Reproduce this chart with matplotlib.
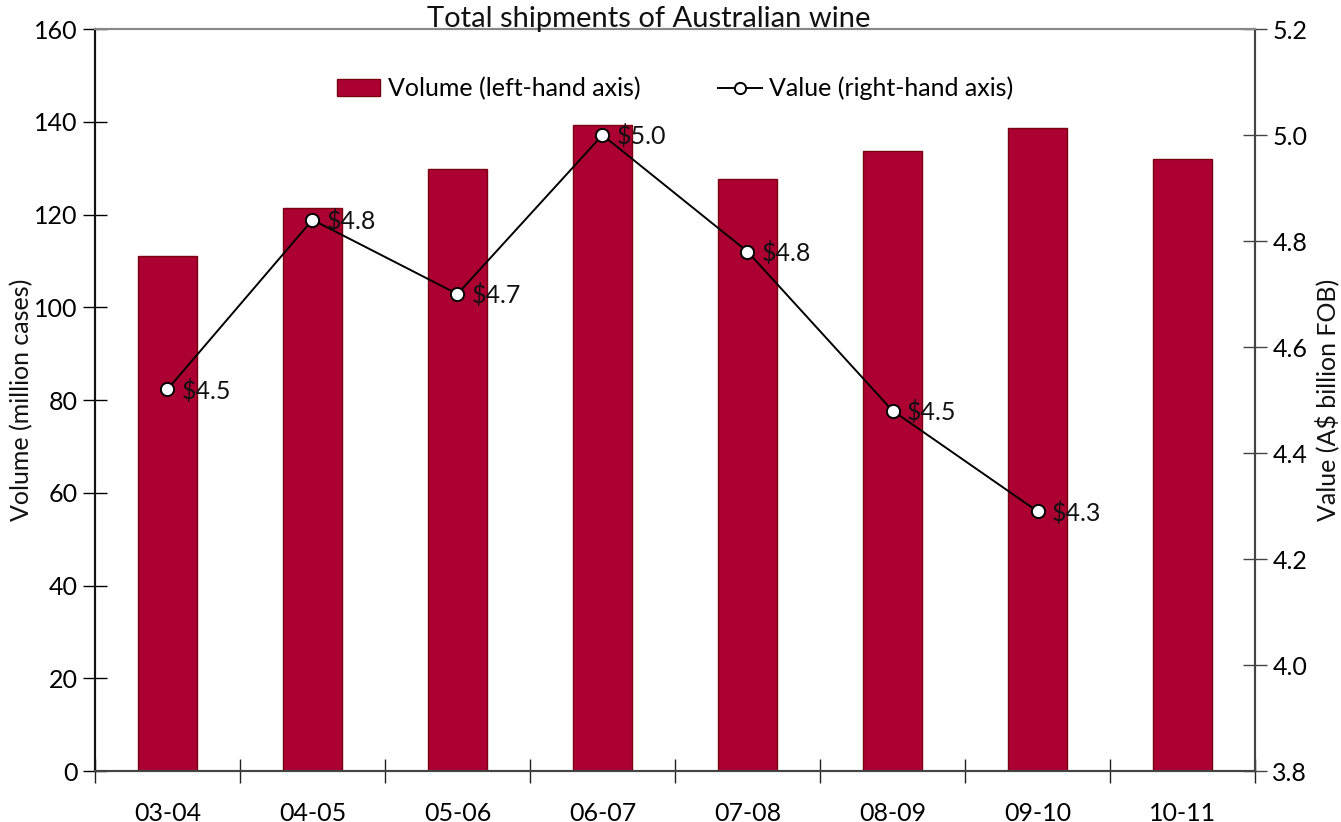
import matplotlib
matplotlib.use("Agg")
import matplotlib.pyplot as plt
from matplotlib.ticker import MultipleLocator, FixedLocator, FormatStrFormatter

plt.rcParams['font.family'] = ['Lato', 'DejaVu Sans']

years = ["03-04", "04-05", "05-06", "06-07", "07-08", "08-09", "09-10", "10-11"]
volume = [111.0, 121.4, 129.9, 139.4, 127.7, 133.7, 138.6, 132.0]
value = [4.52, 4.84, 4.70, 5.00, 4.78, 4.48, 4.29]
value_labels = ["$4.5", "$4.8", "$4.7", "$5.0", "$4.8", "$4.5", "$4.3"]

bar_color = "#AC0033"
bar_edge = "#7A0010"
fs = 18
W, H = 1341, 822

fig = plt.figure(figsize=(W / 100, H / 100), dpi=100)
ax = fig.add_axes([0.0708, 0.062, 0.8651, 0.9027])
ax2 = ax.twinx()

x = list(range(len(years)))
bars = ax.bar(x, volume, width=0.41, color=bar_color, edgecolor=bar_edge,
              linewidth=1.0, label="Volume (left-hand axis)", zorder=2)

ax.set_xlim(-0.5, len(years) - 0.5)
ax.set_ylim(0, 160)
ax.yaxis.set_major_locator(MultipleLocator(20))
ax.set_xticks(x)
ax.set_xticklabels(years, fontsize=fs)
ax.xaxis.set_minor_locator(FixedLocator([i - 0.5 for i in range(len(years) + 1)]))
ax.tick_params(axis='x', which='major', length=0, pad=22)
ax.tick_params(axis='x', which='minor', direction='inout', length=17, width=1, color='#222222')
ax.tick_params(axis='y', direction='inout', length=17, width=1, labelsize=fs, pad=4)

line, = ax2.plot(x[:len(value)], value, color='black', linewidth=1.4, marker='o',
                 markersize=9.5, markerfacecolor='white', markeredgecolor='black',
                 markeredgewidth=1.4, label="Value (right-hand axis)", zorder=3)
for xi, v, lab in zip(x, value, value_labels):
    ax2.annotate(lab, (xi, v), xytext=(10, -1), textcoords='offset points',
                 ha='left', va='center', fontsize=fs, color='#111111')

ax2.set_ylim(3.8, 5.2)
ax2.yaxis.set_major_locator(MultipleLocator(0.2))
ax2.yaxis.set_major_formatter(FormatStrFormatter('%.1f'))
ax2.tick_params(axis='y', direction='inout', length=17, width=1, labelsize=fs, pad=4,
                color='#444444')

# Axis titles placed in figure coordinates so both stay inside the canvas
fig.text(22 / W, 1 - 400 / H, "Volume (million cases)", rotation=90,
         ha='center', va='center', fontsize=fs, color='#111111')
fig.text(1327 / W, 1 - 400 / H, "Value (A$ billion FOB)", rotation=90,
         ha='center', va='center', fontsize=fs, color='#111111')

for a in (ax, ax2):
    a.spines['top'].set_color('#888888')
    a.spines['top'].set_linewidth(1.5)
    a.spines['bottom'].set_color('#444444')
    a.spines['bottom'].set_linewidth(1.5)
    a.spines['left'].set_color('#111111')
    a.spines['left'].set_linewidth(1.5)
    a.spines['right'].set_color('#444444')
    a.spines['right'].set_linewidth(1.5)

ax2.legend([bars, line], ["Volume (left-hand axis)", "Value (right-hand axis)"],
           loc='upper center', bbox_to_anchor=(0.5, 0.966), ncol=2, frameon=False,
           fontsize=fs, handlelength=1.75, handletextpad=0.3, columnspacing=3.1,
           markerscale=0.85)

fig.text(0.4835, 1 - 19 / H, "Total shipments of Australian wine", ha='center',
         va='center', fontsize=21, color='#111111')

fig.savefig("out.png", dpi=100)
